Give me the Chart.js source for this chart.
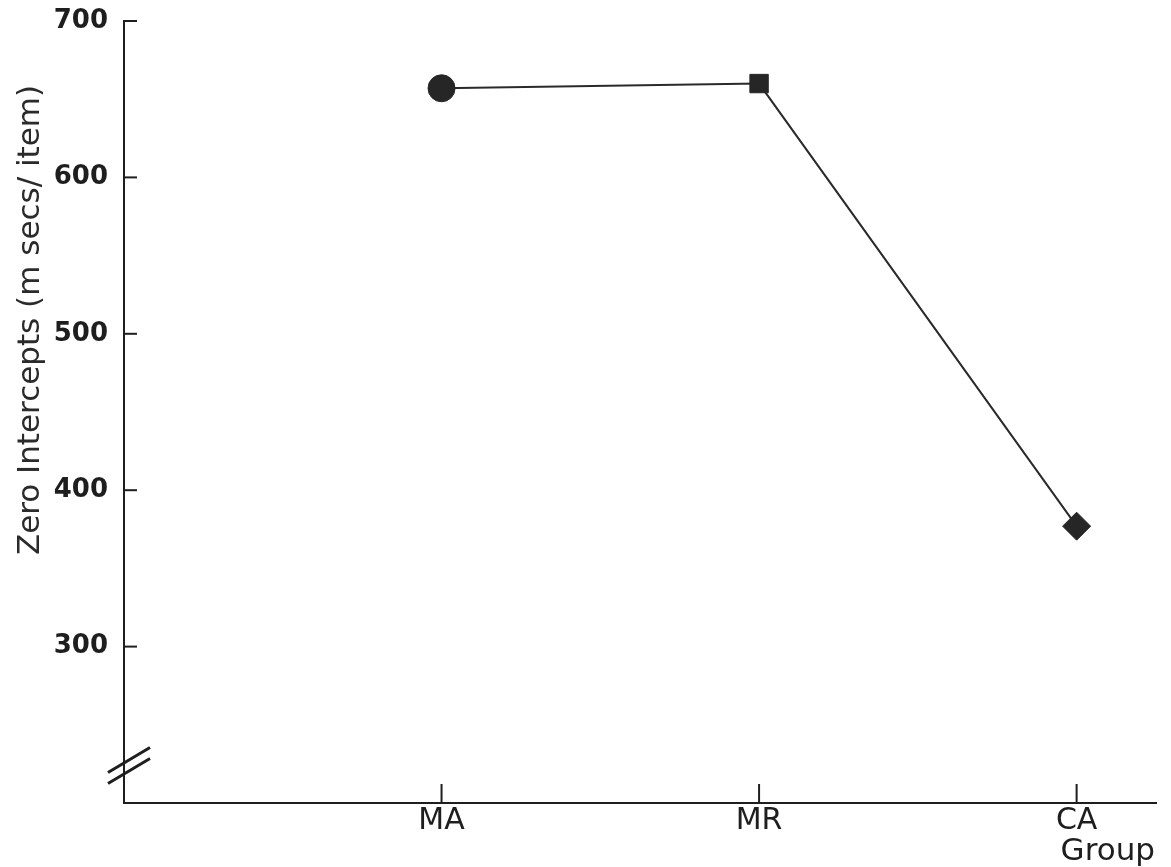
<!DOCTYPE html>
<html>
<head>
<meta charset="utf-8">
<script src="https://cdn.jsdelivr.net/npm/chart.js@4/dist/chart.umd.min.js"></script>
<style>
  html, body { margin: 0; padding: 0; background: #ffffff; }
  #wrap { width: 1171px; height: 867px; position: relative; }
</style>
</head>
<body>
<div id="wrap"><canvas id="chart"></canvas></div>
<script>
// Groups along the x axis and their zero intercepts (ms per item)
const groups = ['MA', 'MR', 'CA'];
const intercepts = [657, 660, 377];
const markerShapes = ['circle', 'rect', 'rectRot'];
const markerSizes = [13.5, 13, 14];
const yTickValues = [300, 400, 500, 600, 700];
const yAxisTitle = 'Zero Intercepts (m secs/ item)';
const xAxisTitle = 'Group';

const FONT = '"DejaVu Sans", sans-serif';
const INK = '#1e1e1e';

// Inward tick marks, the axis break and the two axis titles
const decorations = {
  id: 'decorations',
  afterDraw(chart) {
    const { ctx, scales: { x, y }, chartArea } = chart;
    ctx.save();
    ctx.strokeStyle = INK;
    ctx.lineWidth = 2;
    ctx.lineCap = 'butt';
    // y ticks pointing into the plot
    yTickValues.forEach(v => {
      const py = y.getPixelForValue(v);
      ctx.beginPath();
      ctx.moveTo(chartArea.left, py);
      ctx.lineTo(chartArea.left + 13, py);
      ctx.stroke();
    });
    // x ticks pointing up into the plot
    groups.forEach((g, i) => {
      const px = x.getPixelForValue(i + 1);
      ctx.beginPath();
      ctx.moveTo(px, chartArea.bottom);
      ctx.lineTo(px, chartArea.bottom - 19);
      ctx.stroke();
    });
    // axis break: two parallel slashes across the y axis
    const bx = chartArea.left + 4;
    const by = y.getPixelForValue(224);
    ctx.lineWidth = 3;
    [-5, 6].forEach(off => {
      ctx.beginPath();
      ctx.moveTo(bx - 20, by + off + 12);
      ctx.lineTo(bx + 22, by + off - 13);
      ctx.stroke();
    });
    // y axis title
    ctx.fillStyle = '#2a2a2a';
    ctx.font = '31px ' + FONT;
    ctx.translate(39, 320);
    ctx.rotate(-Math.PI / 2);
    ctx.textAlign = 'center';
    ctx.textBaseline = 'alphabetic';
    ctx.fillText(yAxisTitle, 0, 0);
    ctx.restore();
    // x axis title under the last group label
    ctx.save();
    ctx.fillStyle = INK;
    ctx.font = '31px ' + FONT;
    ctx.textAlign = 'left';
    ctx.textBaseline = 'alphabetic';
    ctx.fillText(xAxisTitle, x.getPixelForValue(groups.length) - 16, 860);
    ctx.restore();
  }
};

new Chart(document.getElementById('chart'), {
  type: 'line',
  data: {
    datasets: [{
      data: intercepts.map((v, i) => ({ x: i + 1, y: v })),
      borderColor: '#2a2a2a',
      borderWidth: 2,
      tension: 0,
      pointStyle: markerShapes,
      pointRadius: markerSizes,
      pointHoverRadius: markerSizes,
      pointBackgroundColor: '#262626',
      pointBorderColor: '#262626',
      pointBorderWidth: 1
    }]
  },
  options: {
    responsive: true,
    maintainAspectRatio: false,
    animation: false,
    events: [],
    layout: { padding: { top: 21, right: 11, left: 0, bottom: 0 } },
    plugins: { legend: { display: false }, tooltip: { enabled: false } },
    scales: {
      x: {
        type: 'linear',
        min: 0,
        max: 3.25,
        afterBuildTicks(scale) {
          scale.ticks = groups.map((g, i) => ({ value: i + 1 }));
        },
        afterFit(scale) {
          scale.height = 64;
          scale.paddingLeft = 0;
          scale.paddingRight = 0;
        },
        grid: { display: false, drawTicks: false },
        border: { display: true, color: INK, width: 2 },
        ticks: {
          color: INK,
          padding: 0,
          maxRotation: 0,
          autoSkip: false,
          font: { family: FONT, size: 30 },
          callback: v => groups[v - 1] || ''
        }
      },
      y: {
        min: 200,
        max: 700,
        afterBuildTicks(scale) {
          scale.ticks = yTickValues.map(v => ({ value: v }));
        },
        afterFit(scale) {
          scale.width = 124;
          scale.paddingTop = 0;
          scale.paddingBottom = 0;
        },
        grid: { display: false, drawTicks: false },
        border: { display: true, color: INK, width: 2 },
        ticks: {
          color: INK,
          padding: 16,
          font: { family: FONT, size: 26, weight: 'bold' },
          callback: v => String(v)
        }
      }
    }
  },
  plugins: [decorations]
});
</script>
</body>
</html>
